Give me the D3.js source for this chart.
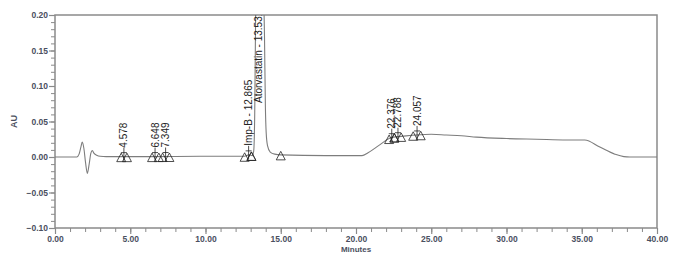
<!DOCTYPE html>
<html>
<head>
<meta charset="utf-8">
<script src="https://cdn.jsdelivr.net/npm/d3@7"></script>
<style>
  body { margin: 0; background: #fff; }
  svg { font-family: "Liberation Sans", Arial, sans-serif; }
</style>
</head>
<body>
<svg width="675" height="255"></svg>
<script>
// chromatogram (minutes, AU)
var traceTime = [0, 1.45, 1.6, 1.72, 1.81, 1.92, 2.03, 2.15, 2.27, 2.38, 2.48, 2.6, 2.77, 3.0, 3.4, 6, 10, 12.6,
  12.865, 13.1, 13.2, 13.27, 13.33, 13.42, 13.55, 13.7, 13.82, 13.92, 13.98, 14.03, 14.12, 14.3, 14.6, 15,
  18, 20.4, 20.8, 21.5, 22.2, 22.5, 23, 24, 25, 26, 27, 28, 30, 32, 34, 35.2, 36.2, 37.2, 37.8, 38.2, 40];
var traceAU = [0, 0, 0.004, 0.014, 0.021, 0.012, -0.008, -0.023, -0.01, 0.005, 0.009, 0.005, 0.0025, 0.001, 0.0005, 0.0005, 0.001, 0.001,
  0.003, 0.002, 0.008, 0.06, 0.2, 0.38, 0.46, 0.4, 0.28, 0.17, 0.07, 0.035, 0.016, 0.007, 0.004, 0.003,
  0.002, 0.002, 0.006, 0.016, 0.026, 0.028, 0.029, 0.031, 0.032, 0.031, 0.03, 0.028, 0.026, 0.025, 0.024, 0.024, 0.014, 0.004, 0.0005, 0, 0];

// integrated peaks
var peakRT = [4.578, 6.648, 7.349, 12.865, 13.531, 22.376, 22.788, 24.057];
var peakLabel = ["4.578", "6.648", "7.349", "Imp-B - 12.865", "Atorvastatin - 13.531", "22.376", "22.788", "24.057"];
var peakStart = [4.4, 6.45, 7.15, 12.6, 13.05, 22.2, 22.55, 23.8];
var peakEnd = [4.78, 6.9, 7.6, 13.05, 15.0, 22.55, 23.0, 24.3];

var xTicks = [0, 5, 10, 15, 20, 25, 30, 35, 40];
var yTicks = [-0.10, -0.05, 0.00, 0.05, 0.10, 0.15, 0.20];

var svg = d3.select("svg");
var plotLeft = 55, plotRight = 657, plotTop = 15, plotBottom = 228;
var axisColor = "#8a8a8a";

var x = d3.scaleLinear().domain([0, 40]).range([plotLeft, plotRight]);
var y = d3.scaleLinear().domain([-0.10, 0.20]).range([plotBottom, plotTop]);

var trace = traceTime.map(function(t, i) { return [t, traceAU[i]]; });
function valueAt(t) {
  var i = d3.bisectRight(traceTime, t);
  if (i <= 0) return traceAU[0];
  if (i >= traceTime.length) return traceAU[traceAU.length - 1];
  var t0 = traceTime[i - 1], t1 = traceTime[i];
  return traceAU[i - 1] + (traceAU[i] - traceAU[i - 1]) * (t - t0) / (t1 - t0);
}

svg.append("defs").append("clipPath").attr("id", "plot")
  .append("rect").attr("x", plotLeft).attr("y", plotTop).attr("width", plotRight - plotLeft).attr("height", plotBottom - plotTop);

// minor ticks
svg.append("g").attr("transform", "translate(0," + plotBottom + ")")
  .call(d3.axisBottom(x).tickValues(d3.range(0, 41, 1)).tickSize(4).tickFormat(""))
  .call(function(g) { g.select(".domain").remove(); g.selectAll("line").attr("stroke", axisColor); });
svg.append("g").attr("transform", "translate(" + plotLeft + ",0)")
  .call(d3.axisLeft(y).tickValues(d3.range(-10, 21, 1).map(function(d) { return d / 100; })).tickSize(4).tickFormat(""))
  .call(function(g) { g.select(".domain").remove(); g.selectAll("line").attr("stroke", axisColor); });

// major ticks with labels
var xAxis = svg.append("g").attr("transform", "translate(0," + plotBottom + ")")
  .call(d3.axisBottom(x).tickValues(xTicks).tickSize(6).tickPadding(2).tickFormat(d3.format(".2f")));
var yAxis = svg.append("g").attr("transform", "translate(" + plotLeft + ",0)")
  .call(d3.axisLeft(y).tickValues(yTicks).tickSize(6).tickPadding(1).tickFormat(d3.format(".2f")));
[xAxis, yAxis].forEach(function(g) {
  g.select(".domain").remove();
  g.selectAll("line").attr("stroke", axisColor).attr("stroke-width", 1.2);
  g.selectAll("text").attr("fill", "#4a4f60").attr("font-size", 8.5).attr("font-weight", "bold")
    .attr("font-family", "Liberation Sans, Arial, sans-serif");
});

// frame
svg.append("rect").attr("x", plotLeft).attr("y", plotTop).attr("width", plotRight - plotLeft).attr("height", plotBottom - plotTop)
  .attr("fill", "none").attr("stroke", axisColor).attr("stroke-width", 1.5);

// trace
var plot = svg.append("g").attr("clip-path", "url(#plot)");
plot.append("path").datum(trace)
  .attr("fill", "none").attr("stroke", "#7d7d7d").attr("stroke-width", 1.1)
  .attr("d", d3.line().x(function(d) { return x(d[0]); }).y(function(d) { return y(d[1]); }).curve(d3.curveMonotoneX));

// peak markers
var marks = plot.append("g").attr("stroke", "#222").attr("fill", "none").attr("stroke-width", 0.8);
function triangle(t) {
  var cx = x(t), cy = y(valueAt(t)) + 1;
  return "M" + (cx - 4.5) + "," + (cy + 4) + "L" + cx + "," + (cy - 4.5) + "L" + (cx + 4.5) + "," + (cy + 4) + "Z";
}
peakStart.concat(peakEnd).forEach(function(t) {
  marks.append("path").attr("d", triangle(t));
});

peakRT.forEach(function(rt, i) {
  var v = valueAt(rt);
  var px = x(rt);
  var labelBottom = Math.max(y(v) - 9, 103);
  if (v < 0.2) {
    marks.append("line").attr("x1", px).attr("x2", px).attr("y1", labelBottom).attr("y2", y(v) + 4);
    marks.append("line").attr("x1", px - 3).attr("x2", px + 3).attr("y1", y(v) - 4).attr("y2", y(v) - 4);
  }
  plot.append("text")
    .attr("transform", "translate(" + (px + 3.5) + "," + labelBottom + ") rotate(-90)")
    .attr("font-size", 10).attr("fill", "#222")
    .text(peakLabel[i]);
});

// axis titles
svg.append("text").attr("transform", "translate(17," + y(0.05) + ") rotate(-90)")
  .attr("text-anchor", "middle").attr("font-size", 9).attr("font-weight", "bold").attr("fill", "#4a4f60").text("AU");
svg.append("text").attr("x", x(20)).attr("y", 252)
  .attr("text-anchor", "middle").attr("font-size", 8).attr("font-weight", "bold").attr("fill", "#4a4f60").text("Minutes");
</script>
</body>
</html>
